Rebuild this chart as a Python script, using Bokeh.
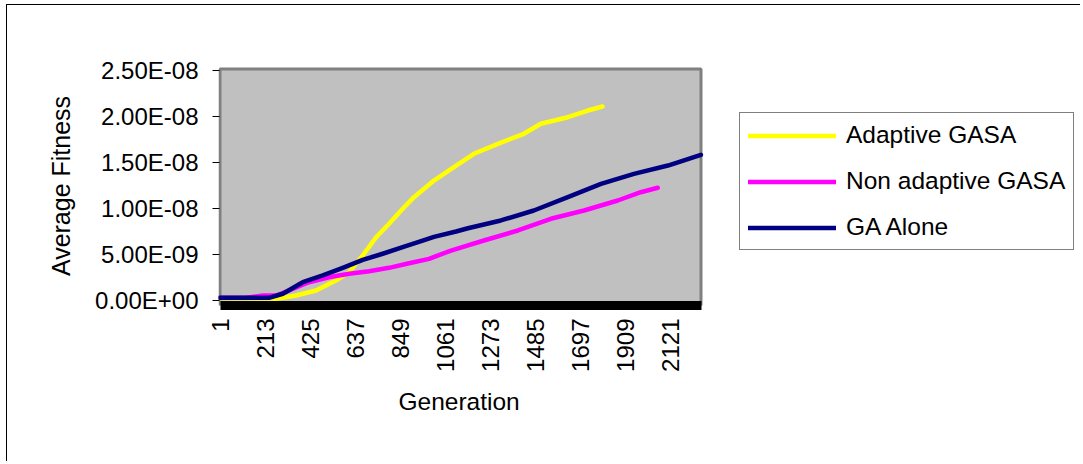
import math
from bokeh.plotting import figure
from bokeh.models import (Range1d, FixedTicker, Legend, LegendItem,
                          BoxAnnotation, Title)
from bokeh.embed import file_html
from bokeh.resources import INLINE

# ---- data ----
series_names = ["Adaptive GASA", "Non adaptive GASA", "GA Alone"]
series_colors = ["#FFFF00", "#FF00FF", "#000080"]

adaptive_gen = [1, 264, 358, 452, 546, 608, 672, 735, 796, 860, 913, 1007,
                1101, 1195, 1308, 1430, 1510, 1637, 1731, 1800]
adaptive_fit = [2.5e-10, 2.0e-10, 5.4e-10, 1.09e-9, 2.17e-9, 3.08e-9, 4.89e-9,
                6.88e-9, 8.34e-9, 9.97e-9, 1.123e-8, 1.304e-8, 1.449e-8,
                1.595e-8, 1.703e-8, 1.812e-8, 1.921e-8, 1.992e-8, 2.065e-8,
                2.109e-8]

non_adaptive_gen = [1, 123, 203, 264, 325, 419, 513, 608, 702, 796, 890, 984,
                    1087, 1242, 1402, 1557, 1713, 1872, 1980, 2060]
non_adaptive_fit = [2.9e-10, 2.9e-10, 5.4e-10, 5.4e-10, 1.09e-9, 1.99e-9,
                    2.53e-9, 2.90e-9, 3.18e-9, 3.55e-9, 4.05e-9, 4.53e-9,
                    5.43e-9, 6.52e-9, 7.61e-9, 8.88e-9, 9.78e-9, 1.087e-8,
                    1.177e-8, 1.225e-8]

ga_gen = [1, 231, 296, 390, 484, 578, 672, 766, 860, 954, 1007, 1111, 1167,
          1322, 1477, 1637, 1793, 1948, 2108, 2263]
ga_fit = [2.9e-10, 2.9e-10, 7.3e-10, 1.99e-9, 2.72e-9, 3.55e-9, 4.42e-9,
          5.08e-9, 5.79e-9, 6.52e-9, 6.92e-9, 7.50e-9, 7.85e-9, 8.70e-9,
          9.78e-9, 1.123e-8, 1.268e-8, 1.377e-8, 1.467e-8, 1.584e-8]

n_generations = 2263
x_ticks = [1, 213, 425, 637, 849, 1061, 1273, 1485, 1697, 1909, 2121]
y_ticks = [0.0, 5e-9, 1e-8, 1.5e-8, 2e-8, 2.5e-8]
y_tick_labels = ["0.00E+00", "5.00E-09", "1.00E-08", "1.50E-08", "2.00E-08", "2.50E-08"]

x_title = "Generation"
y_title = "Average Fitness"

FONT = "Liberation Sans"

# ---- geometry (pixels) ----
FIG_W, FIG_H = 1074, 457
B_LEFT, B_TOP, B_BOTTOM = 211, 61, 157
FRAME_W = FIG_W - B_LEFT
FRAME_H = FIG_H - B_TOP - B_BOTTOM
AREA_OFF_X, AREA_W = 1.5, 481      # plot area inside the frame
AREA_ZERO_Y, AREA_H = 5, 230       # y=0 and y=top tick, px above frame bottom

gen_lo, gen_hi = 0.5, n_generations + 0.5
kx = AREA_W / (gen_hi - gen_lo)
x_start = gen_lo - AREA_OFF_X / kx
x_end = x_start + FRAME_W / kx

y_top = y_ticks[-1]
ky = AREA_H / y_top
y_start = -AREA_ZERO_Y / ky
y_end = y_start + FRAME_H / ky

# ---- figure ----
p = figure(width=FIG_W, height=FIG_H, output_backend="svg", toolbar_location=None,
           x_range=Range1d(x_start, x_end), y_range=Range1d(y_start, y_end),
           min_border_left=B_LEFT, min_border_right=0,
           min_border_top=B_TOP, min_border_bottom=B_BOTTOM)

p.background_fill_color = "white"
p.border_fill_color = "white"
p.outline_line_color = None
p.xgrid.visible = False
p.ygrid.visible = False
p.styles = {"margin-left": "6px", "margin-top": "4px",
            "border-left": "1px solid black", "border-top": "1px solid black"}

# grey plot area with darker border
area = BoxAnnotation(left=gen_lo, right=gen_hi, bottom=y_start, top=y_top + 1.5 / ky,
                     fill_color="#C0C0C0", fill_alpha=1.0,
                     line_color="#808080", line_width=3, line_alpha=1.0,
                     level="underlay")
p.add_layout(area)

# x axis: thick black base bar, vertical labels
xa = p.xaxis[0]
xa.ticker = FixedTicker(ticks=x_ticks)
xa.bounds = (gen_lo, gen_hi)
xa.axis_line_color = "black"
xa.axis_line_width = 9
xa.major_tick_line_color = None
xa.minor_tick_line_color = None
xa.major_tick_out = 0
xa.major_tick_in = 0
xa.major_label_standoff = 13
xa.major_label_orientation = math.pi / 2
xa.major_label_text_font = FONT
xa.major_label_text_font_size = "24px"
xa.major_label_text_color = "black"

xt = Title(text=x_title, align="left", offset=180, standoff=22,
           text_font=FONT, text_font_size="24.5px", text_font_style="normal",
           text_color="black")
p.add_layout(xt, "below")

ya = p.yaxis[0]
ya.ticker = FixedTicker(ticks=y_ticks)
ya.major_label_overrides = {v: s for v, s in zip(y_ticks, y_tick_labels)}
ya.axis_line_color = None
ya.major_tick_line_color = "black"
ya.major_tick_out = 6
ya.major_tick_in = 1
ya.minor_tick_line_color = None
ya.major_label_standoff = 14
ya.major_label_text_font = FONT
ya.major_label_text_font_size = "24px"
ya.major_label_text_color = "black"
ya.axis_label = y_title
ya.axis_label_text_font = FONT
ya.axis_label_text_font_size = "25px"
ya.axis_label_text_font_style = "normal"
ya.axis_label_text_color = "black"
ya.axis_label_standoff = 17

# ---- lines ----
all_x = [adaptive_gen, non_adaptive_gen, ga_gen]
all_y = [adaptive_fit, non_adaptive_fit, ga_fit]
renderers = []
for xs, ys, c in zip(all_x, all_y, series_colors):
    r = p.line(xs, ys, line_color=c, line_width=4.5, line_join="round", line_cap="round")
    renderers.append(r)

legend = Legend(items=[LegendItem(label=n, renderers=[r]) for n, r in zip(series_names, renderers)],
                location=(521, 55), orientation="vertical")
legend.border_line_color = "black"
legend.border_line_width = 1
legend.background_fill_color = "white"
legend.background_fill_alpha = 1
legend.label_text_font = FONT
legend.label_text_font_size = "24.5px"
legend.label_text_color = "black"
legend.glyph_width = 88
legend.glyph_height = 27
legend.label_height = 27
legend.label_standoff = 10
legend.spacing = 18
legend.padding = 8
legend.margin = 0
p.add_layout(legend, "center")

open("out.html", "w").write(file_html(p, INLINE))
